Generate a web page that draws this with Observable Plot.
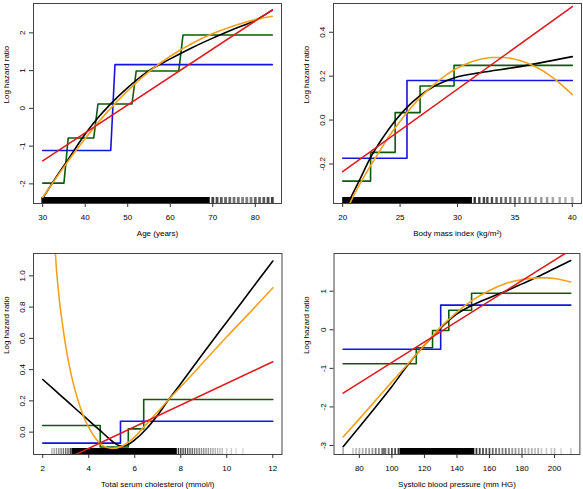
<!DOCTYPE html>
<html><head><meta charset="utf-8">
<script src="https://cdn.jsdelivr.net/npm/d3@7"></script>
<script src="https://cdn.jsdelivr.net/npm/@observablehq/plot@0.6"></script>
<style>
html,body{margin:0;padding:0;background:#fff;}
#wrap{position:relative;width:583px;height:489px;overflow:hidden;}
#wrap svg{position:absolute;}
</style></head><body><div id="wrap"></div>
<script>
// ---------- Panel 1: Age ----------
const ageXTicks = [30, 40, 50, 60, 70, 80];
const ageYTicks = [-2, -1, 0, 1, 2];
const ageYLabels = ["-2", "-1", "0", "1", "2"];
const ageLinear = [[30, -1.39], [84, 2.61]];
const ageDichot = [[30, -1.115], [46, -1.115], [47, 1.158], [84, 1.158]];
const ageQuint = [[30, -1.98], [35, -1.98], [36, -0.787], [42, -0.787], [43, 0.115], [51, 0.115], [52, 0.99], [62, 0.99], [63, 1.944], [84, 1.944]];
const ageSpline = [[30, -2.38], [33, -1.85], [36, -1.35], [40, -0.68], [43, -0.25], [46, 0.12], [50, 0.55], [55, 1.0], [60, 1.31], [65, 1.6], [70, 1.86], [75, 2.1], [80, 2.33], [84, 2.6]];
const ageQuad = [[30, -2.36], [35, -1.55], [40, -0.8], [45, -0.12], [50, 0.47], [55, 0.97], [60, 1.38], [65, 1.71], [70, 1.98], [75, 2.19], [80, 2.35], [84, 2.44]];
const ageRugBand = [[29.8, 69.4]];
const ageRugTicks = [[70, 0.75], [71, 0.7], [72, 0.65], [73, 0.6], [74, 0.6], [75, 0.55], [76, 0.55], [77, 0.5], [78, 0.5], [79, 0.5], [80, 0.6], [81, 0.6], [82, 0.65], [83, 0.7], [84, 0.75]];

// ---------- Panel 2: BMI ----------
const bmiXTicks = [20, 25, 30, 35, 40];
const bmiYTicks = [-0.2, 0, 0.2, 0.4];
const bmiYLabels = ["-0.2", "0.0", "0.2", "0.4"];
const bmiLinear = [[20, -0.235], [40, 0.517]];
const bmiDichot = [[20, -0.174], [25.6, -0.174], [25.6, 0.18], [40, 0.18]];
const bmiQuint = [[20, -0.278], [22.43, -0.278], [22.43, -0.147], [24.57, -0.147], [24.57, 0.034], [26.74, 0.034], [26.74, 0.155], [29.7, 0.155], [29.7, 0.249], [40, 0.249]];
const bmiSpline = [[20, -0.43], [20.5, -0.375], [21.5, -0.27], [22.43, -0.17], [23.5, -0.08], [24.57, -0.003], [25.6, 0.058], [26.74, 0.111], [28, 0.155], [29.7, 0.192], [32, 0.216], [35, 0.24], [40, 0.289]];
const bmiQuad = [[20, -0.45], [21, -0.34], [22, -0.245], [23, -0.16], [24, -0.077], [25, -0.005], [26, 0.06], [27, 0.116], [28, 0.164], [29, 0.205], [30, 0.237], [31, 0.261], [32, 0.277], [33, 0.285], [34, 0.285], [35, 0.277], [36, 0.261], [37, 0.237], [38, 0.205], [39, 0.164], [40, 0.116]];
const bmiRugBand = [[20, 31.3]];
const bmiRugTicks = [[31.5, 0.8], [31.9, 0.75], [32.3, 0.75], [32.6, 0.7], [33.0, 0.7], [33.4, 0.65], [33.8, 0.6], [34.2, 0.6], [34.6, 0.55], [35.0, 0.55], [35.4, 0.5], [35.9, 0.5], [36.3, 0.45], [36.8, 0.45], [37.3, 0.4], [37.8, 0.4], [38.3, 0.35], [38.9, 0.35], [39.4, 0.3], [40.0, 0.3]];

// ---------- Panel 3: Cholesterol ----------
const cholXTicks = [2, 4, 6, 8, 10, 12];
const cholYTicks = [0, 0.2, 0.4, 0.6, 0.8, 1.0];
const cholYLabels = ["0.0", "0.2", "0.4", "0.6", "0.8", "1.0"];
const cholLinear = [[2, -0.242], [12, 0.45]];
const cholDichot = [[2, -0.07], [5.38, -0.07], [5.38, 0.07], [12, 0.07]];
const cholQuint = [[2, 0.043], [4.5, 0.043], [4.5, -0.095], [5.72, -0.095], [5.72, 0.021], [6.39, 0.021], [6.39, 0.209], [12, 0.209]];
const cholSpline = [[2, 0.337], [2.5, 0.272], [3, 0.206], [3.5, 0.14], [4, 0.075], [4.5, 0.01], [4.8, -0.03], [5.1, -0.068], [5.4, -0.088], [5.7, -0.08], [6, -0.05], [6.5, 0.02], [7, 0.11], [7.48, 0.21], [8, 0.31], [9, 0.51], [10, 0.705], [11, 0.9], [12, 1.095]];
const cholQuad = [[2.45, 1.5], [2.55, 1.15], [2.7, 0.88], [2.85, 0.7], [3, 0.55], [3.25, 0.36], [3.5, 0.22], [3.75, 0.11], [4, 0.03], [4.3, -0.04], [4.6, -0.085], [5, -0.105], [5.5, -0.085], [6, -0.03], [6.5, 0.05], [7, 0.13], [7.48, 0.21], [8, 0.29], [9, 0.45], [10, 0.61], [11, 0.765], [12, 0.923]];
const cholRugBand = [[3.27, 7.85]];
const cholRugTicks = [[2.4, 0.3], [2.5, 0.35], [2.6, 0.4], [2.7, 0.45], [2.8, 0.5], [2.9, 0.55], [3.0, 0.6], [3.1, 0.65], [3.2, 0.75], [7.9, 0.8], [8.0, 0.75], [8.1, 0.7], [8.2, 0.7], [8.3, 0.65], [8.4, 0.6], [8.5, 0.6], [8.6, 0.55], [8.7, 0.5], [8.8, 0.5], [8.9, 0.45], [9.0, 0.45], [9.1, 0.4], [9.2, 0.4], [9.3, 0.35], [9.4, 0.35], [9.5, 0.3], [9.6, 0.3], [9.7, 0.25], [9.8, 0.25], [10.0, 0.2], [10.2, 0.2], [10.4, 0.15], [10.7, 0.15]];

// ---------- Panel 4: Systolic blood pressure ----------
const sbpXTicks = [80, 100, 120, 140, 160, 180, 200];
const sbpYTicks = [-3, -2, -1, 0, 1];
const sbpYLabels = ["-3", "-2", "-1", "0", "1"];
const sbpLinear = [[70, -1.643], [210, 2.07]];
const sbpDichot = [[70, -0.503], [130, -0.503], [130, 0.638], [210, 0.638]];
const sbpQuint = [[70, -0.882], [115, -0.882], [115, -0.467], [125, -0.467], [125, -0.018], [135, -0.018], [135, 0.505], [149, 0.505], [149, 0.948], [210, 0.948]];
const sbpSpline = [[70, -3.03], [80, -2.52], [90, -2.0], [100, -1.47], [110, -0.9], [115, -0.64], [120, -0.4], [125, -0.18], [130, 0.05], [135, 0.24], [140, 0.41], [150, 0.65], [160, 0.83], [170, 1.0], [180, 1.19], [190, 1.38], [200, 1.59], [210, 1.795]];
const sbpQuad = [[70, -2.78], [80, -2.31], [90, -1.83], [100, -1.35], [110, -0.88], [115, -0.64], [120, -0.4], [125, -0.16], [130, 0.07], [135, 0.27], [140, 0.46], [150, 0.78], [160, 1.02], [170, 1.2], [180, 1.3], [190, 1.345], [195, 1.345], [200, 1.33], [210, 1.24]];
const sbpRugBand = [[105, 151]];
const sbpRugTicks = [[70, 0.3], [76, 0.2], [78, 0.25], [80, 0.3], [82, 0.3], [84, 0.35], [86, 0.35], [88, 0.4], [90, 0.5], [92, 0.45], [94, 0.5], [95, 0.55], [96, 0.55], [98, 0.6], [100, 0.7], [102, 0.7], [104, 0.75], [152, 0.8], [154, 0.75], [156, 0.7], [158, 0.65], [160, 0.7], [162, 0.6], [164, 0.55], [166, 0.5], [168, 0.5], [170, 0.55], [172, 0.45], [174, 0.4], [176, 0.4], [178, 0.35], [180, 0.45], [182, 0.3], [184, 0.3], [186, 0.3], [188, 0.25], [190, 0.3], [192, 0.2], [195, 0.2], [198, 0.2], [200, 0.25], [204, 0.15], [210, 0.2]];

const COLORS = {spline: "#000000", quad: "#f5a21b", linear: "#e01b1f", quint: "#0d5a0d", dichot: "#1414e0"};
const FONT = "'Liberation Sans', Arial, Helvetica, sans-serif";

function panel(cfg) {
  const frameH = cfg.h - cfg.mt - cfg.mb;
  const rugInset = frameH - 6;
  const line = (data, color) => Plot.line(data, {x: d => d[0], y: d => d[1], stroke: color, strokeWidth: 1.6, clip: true, curve: "monotone-x"});
  const step = (data, color) => Plot.line(data, {x: d => d[0], y: d => d[1], stroke: color, strokeWidth: 1.6, clip: true});
  const svg = Plot.plot({
    width: cfg.w, height: cfg.h,
    marginLeft: cfg.ml, marginRight: cfg.mr, marginTop: cfg.mt, marginBottom: cfg.mb,
    x: {domain: cfg.xDomain, axis: null},
    y: {domain: cfg.yDomain, axis: null},
    opacity: {type: "identity"},
    style: {fontFamily: FONT, fontSize: "8px", color: "#000", background: "#fff", overflow: "visible"},
    marks: [
      Plot.rect(cfg.rugBand, {x1: d => d[0], x2: d => d[1], insetTop: rugInset, fill: "#000"}),
      Plot.ruleX(cfg.rugTicks, {x: d => d[0], strokeOpacity: d => d[1], insetTop: rugInset, stroke: "#000", strokeWidth: cfg.rugWidth}),
      step(cfg.quint, COLORS.quint),
      step(cfg.dichot, COLORS.dichot),
      line(cfg.spline, COLORS.spline),
      line(cfg.quad, COLORS.quad),
      step(cfg.linear, COLORS.linear),
      Plot.frame({stroke: "#444", strokeWidth: 1}),
      Plot.axisX(cfg.xTicks, {tickSize: 4, tickPadding: 7, tickFormat: d => String(d), fontSize: 8, label: null, stroke: "#333"}),
      Plot.axisY(cfg.yTicks, {tickSize: 4, tickFormat: () => "", label: null, stroke: "#333"}),
      Plot.text(cfg.yTicks, {y: d => d, text: (d, i) => cfg.yLabels[i], frameAnchor: "left", dx: -11, rotate: -90, textAnchor: "middle", lineAnchor: "middle", fontSize: 8}),
      Plot.text([cfg.xTitle], {text: d => d, frameAnchor: "bottom", dy: 29.5, lineAnchor: "middle", fontSize: 8}),
      Plot.text(["Log hazard ratio"], {text: d => d, frameAnchor: "left", dx: -27.5, rotate: -90, lineAnchor: "middle", fontSize: 8})
    ]
  });
  svg.style.left = cfg.left + "px";
  svg.style.top = cfg.top + "px";
  document.getElementById("wrap").appendChild(svg);
}

panel({left: 0, top: 0, w: 291, h: 244, ml: 33, mr: 10, mt: 3, mb: 41,
  xDomain: [27.84, 86.16], yDomain: [-2.52, 2.777],
  xTicks: ageXTicks, yTicks: ageYTicks, yLabels: ageYLabels, xTitle: "Age (years)",
  linear: ageLinear, dichot: ageDichot, quint: ageQuint, spline: ageSpline, quad: ageQuad,
  rugBand: ageRugBand, rugTicks: ageRugTicks, rugWidth: 2.8});

panel({left: 291, top: 0, w: 292, h: 244, ml: 42, mr: 2, mt: 3, mb: 41,
  xDomain: [19.2, 40.8], yDomain: [-0.38, 0.531],
  xTicks: bmiXTicks, yTicks: bmiYTicks, yLabels: bmiYLabels, xTitle: "Body mass index (kg/m²)",
  linear: bmiLinear, dichot: bmiDichot, quint: bmiQuint, spline: bmiSpline, quad: bmiQuad,
  rugBand: bmiRugBand, rugTicks: bmiRugTicks, rugWidth: 2.4});

panel({left: 0, top: 244, w: 291, h: 245, ml: 33, mr: 9.5, mt: 9, mb: 35,
  xDomain: [1.6, 12.4], yDomain: [-0.143, 1.143],
  xTicks: cholXTicks, yTicks: cholYTicks, yLabels: cholYLabels, xTitle: "Total serum cholesterol (mmol/l)",
  linear: cholLinear, dichot: cholDichot, quint: cholQuint, spline: cholSpline, quad: cholQuad,
  rugBand: cholRugBand, rugTicks: cholRugTicks, rugWidth: 1.4});

panel({left: 291, top: 244, w: 292, h: 245, ml: 42.5, mr: 3.6, mt: 9, mb: 35,
  xDomain: [64.4, 215.6], yDomain: [-3.233, 1.977],
  xTicks: sbpXTicks, yTicks: sbpYTicks, yLabels: sbpYLabels, xTitle: "Systolic blood pressure (mm HG)",
  linear: sbpLinear, dichot: sbpDichot, quint: sbpQuint, spline: sbpSpline, quad: sbpQuad,
  rugBand: sbpRugBand, rugTicks: sbpRugTicks, rugWidth: 1.8});
</script>
</body></html>
